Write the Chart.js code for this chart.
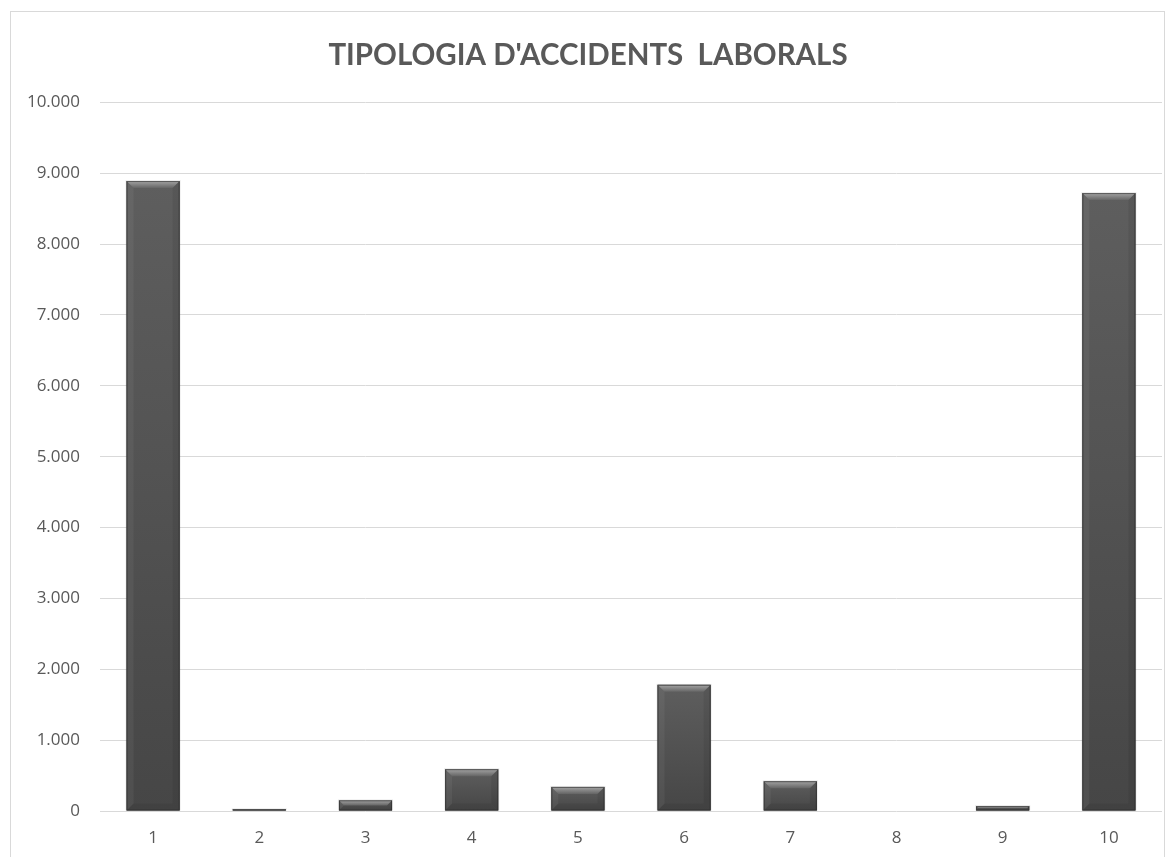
<!DOCTYPE html>
<html>
<head>
<meta charset="utf-8">
<script src="https://cdn.jsdelivr.net/npm/chart.js@4"></script>
<style>
  html, body { margin: 0; padding: 0; background: #fff; }
  #frame { position: absolute; left: 10px; top: 11px; width: 1155px; height: 860px; border: 1px solid #d9d9d9; box-sizing: border-box; }
  #wrap { position: absolute; left: 0; top: 0; width: 1176px; height: 857px; }
</style>
</head>
<body>
<div id="frame"></div>
<div id="wrap"><canvas id="c" width="1176" height="857"></canvas></div>
<script>
const categories = ['1', '2', '3', '4', '5', '6', '7', '8', '9', '10'];
const accidents = [8890, 25, 150, 590, 340, 1780, 420, 0, 70, 8720];
const titleText = "TIPOLOGIA D'ACCIDENTS  LABORALS";

function fmt(v) {
  return String(Math.round(v)).replace(/\B(?=(\d{3})+(?!\d))/g, '.');
}

const bevelPlugin = {
  id: 'bevel',
  afterDatasetsDraw(chart) {
    const ctx = chart.ctx;
    const meta = chart.getDatasetMeta(0);
    meta.data.forEach(bar => {
      const p = bar.getProps(['x', 'y', 'base', 'width'], true);
      const l = p.x - p.width / 2, r = p.x + p.width / 2;
      const t = Math.min(p.y, p.base), b = Math.max(p.y, p.base);
      const h = b - t;
      if (h < 1) return;
      const bv = Math.min(7, h / 2);
      ctx.save();
      ctx.fillStyle = 'rgba(0,0,0,0.08)';
      ctx.fillRect(l - 1, t - 1, r - l + 2, h + 1);
      let gb = ctx.createLinearGradient(0, t, 0, b);
      gb.addColorStop(0, '#5e5e5e');
      gb.addColorStop(1, '#464646');
      ctx.fillStyle = gb;
      ctx.fillRect(l, t, r - l, h);
      let g = ctx.createLinearGradient(0, t, 0, t + bv);
      g.addColorStop(0, '#a4a4a4');
      g.addColorStop(1, '#656565');
      ctx.fillStyle = g;
      ctx.beginPath();
      ctx.moveTo(l, t); ctx.lineTo(r, t); ctx.lineTo(r - bv, t + bv); ctx.lineTo(l + bv, t + bv); ctx.closePath();
      ctx.fill();
      ctx.fillStyle = 'rgba(255,255,255,0.05)';
      ctx.beginPath();
      ctx.moveTo(l, t); ctx.lineTo(l + bv, t + bv); ctx.lineTo(l + bv, b - bv); ctx.lineTo(l, b); ctx.closePath();
      ctx.fill();
      ctx.fillStyle = 'rgba(0,0,0,0.07)';
      ctx.beginPath();
      ctx.moveTo(r, t); ctx.lineTo(r - bv, t + bv); ctx.lineTo(r - bv, b - bv); ctx.lineTo(r, b); ctx.closePath();
      ctx.fill();
      ctx.fillStyle = 'rgba(0,0,0,0.06)';
      ctx.beginPath();
      ctx.moveTo(l, b); ctx.lineTo(r, b); ctx.lineTo(r - bv, b - bv); ctx.lineTo(l + bv, b - bv); ctx.closePath();
      ctx.fill();
      ctx.strokeStyle = 'rgba(40,40,40,0.6)';
      ctx.lineWidth = 1;
      ctx.strokeRect(l + 0.5, t + 0.5, r - l - 1, h - 1);
      ctx.restore();
    });
  }
};

new Chart(document.getElementById('c'), {
  type: 'bar',
  data: {
    labels: categories,
    datasets: [{
      data: accidents,
      backgroundColor: '#555555',
      borderWidth: 0,
      barPercentage: 0.5,
      categoryPercentage: 1.0
    }]
  },
  options: {
    responsive: false,
    animation: false,
    devicePixelRatio: 1,
    layout: { padding: { left: 14, right: 14, top: 0, bottom: 0 } },
    plugins: {
      legend: { display: false },
      tooltip: { enabled: false },
      title: {
        display: true,
        text: titleText,
        color: '#595959',
        font: { family: 'Lato, Liberation Sans, sans-serif', size: 29.5, weight: 'bold', lineHeight: 1.2 },
        padding: { top: 38, bottom: 29 }
      }
    },
    scales: {
      x: {
        grid: { display: false, drawTicks: false },
        border: { display: false },
        ticks: { color: '#595959', font: { family: 'Open Sans, Liberation Sans, sans-serif', size: 17 }, padding: 17 },
        afterFit(s) { s.height = 46; }
      },
      y: {
        min: 0, max: 10000,
        grid: { color: '#d9d9d9', drawTicks: false, lineWidth: 1 },
        border: { display: false },
        ticks: { stepSize: 1000, color: '#595959', font: { family: 'Open Sans, Liberation Sans, sans-serif', size: 17 }, padding: 20, callback: v => fmt(v) },
        afterFit(s) { s.width = 86; }
      }
    }
  },
  plugins: [bevelPlugin]
});
</script>
</body>
</html>
